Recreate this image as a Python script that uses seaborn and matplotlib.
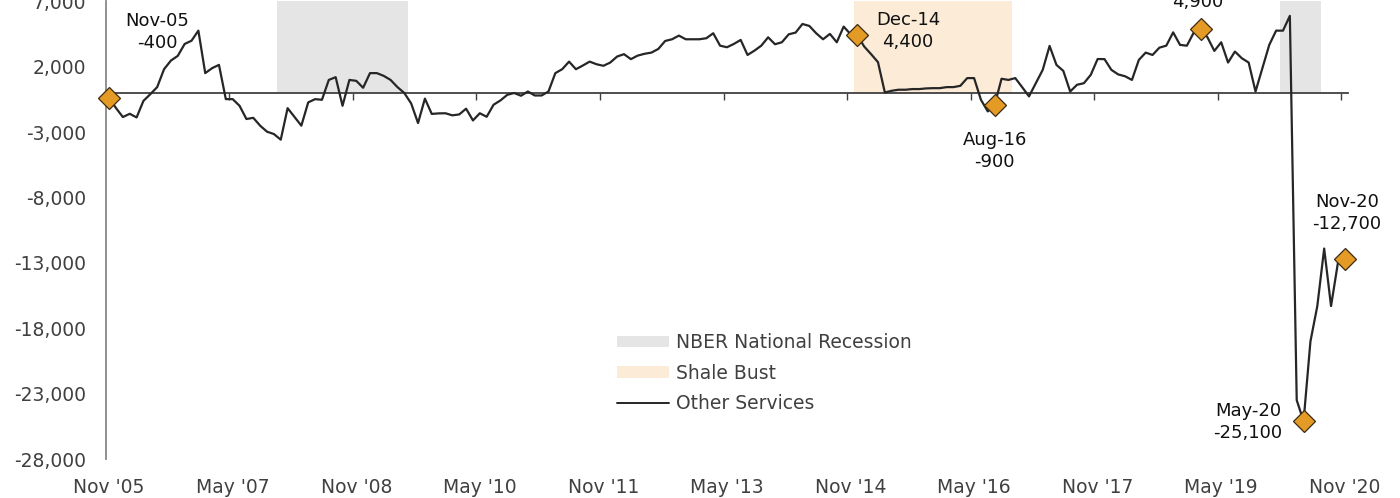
import numpy as np
import pandas as pd
import matplotlib
matplotlib.use("Agg")
import matplotlib.pyplot as plt
import seaborn as sns
from matplotlib.patches import Patch
from matplotlib.lines import Line2D

# Monthly change, Other Services, Nov 2005 .. Nov 2020
start_month = "2005-11"
other_services = [
    -400, -1150, -1840, -1590, -1870, -600, -90, 450, 1820, 2480,
    2840, 3750, 4000, 4770, 1520, 1900, 2150, -470, -470, -980,
    -1990, -1900, -2500, -2960, -3140, -3570, -1160, -1830, -2500, -720,
    -470, -520, 1000, 1210, -980, 1000, 930, 400, 1520, 1520,
    1310, 1000, 450, 0, -800, -2300, -430, -1600, -1560, -1550,
    -1710, -1640, -1200, -2100, -1550, -1820, -900, -570, -140, 0,
    -210, 115, -190, -190, 115, 1520, 1820, 2400, 1820, 2100,
    2400, 2200, 2080, 2330, 2790, 2970, 2590, 2860, 3000, 3090,
    3370, 3980, 4110, 4390, 4110, 4110, 4110, 4190, 4570, 3620,
    3500, 3750, 4060, 2910, 3240, 3620, 4260, 3730, 3880, 4490,
    4620, 5280, 5130, 4570, 4110, 4520, 3880, 5080, 4500, 4400,
    3550, 2970, 2360, 40, 170, 250, 250, 300, 300, 350,
    370, 370, 450, 450, 550, 1140, 1140, -520, -1410, -900,
    1090, 1000, 1140, 450, -260, 750, 1770, 3600, 2150, 1690,
    115, 630, 750, 1390, 2600, 2590, 1770, 1420, 1280, 1000,
    2530, 3090, 2910, 3470, 3620, 4640, 3680, 3620, 4620, 4900,
    4260, 3220, 3880, 2330, 3170, 2660, 2330, 115, 1900, 3680,
    4770, 4770, 5900, -23500, -25100, -19000, -16300, -11900, -16300, -13000,
    -12700,
]

recession_months = ["2007-12", "2008-01", "2008-02", "2008-03", "2008-04", "2008-05",
                    "2008-06", "2008-07", "2008-08", "2008-09", "2008-10", "2008-11",
                    "2008-12", "2009-01", "2009-02", "2009-03", "2009-04", "2009-05",
                    "2009-06", "2020-02", "2020-03", "2020-04", "2020-05", "2020-06",
                    "2020-07"]
shale_start, shale_end = "2014-12", "2016-10"
shade_top = 7000

# highlighted points and where their labels sit (month offset, value)
highlights = ["2005-11", "2014-12", "2016-08", "2019-02", "2020-05", "2020-11"]
label_pos = [(7.0, 4680), (116.4, 4720), (129.0, -4420), (158.6, 7820),
             (165.9, -25150), (180.3, -9160)]

tick_step = 18

dates = pd.date_range(start_month, periods=len(other_services), freq="MS")
df = pd.DataFrame({"date": dates, "value": other_services})
df["m"] = np.arange(len(df))
idx = {d.strftime("%Y-%m"): i for i, d in enumerate(dates)}

sns.set_theme(style="white")
plt.rcParams["font.family"] = ["DejaVu Sans"]

fig = plt.figure(figsize=(14, 4.98), dpi=100)
ax = fig.add_axes([0.0755, 0.0783, 0.8875, 0.9187])

grey = "#E5E5E5"
shale = "#FBEBD7"
rec_m = [idx[d] for d in recession_months]
ax.bar(rec_m, [shade_top] * len(rec_m), width=1.0, color=grey, linewidth=0, zorder=0)
shale_m = list(range(idx[shale_start], idx[shale_end] + 1))
ax.bar(shale_m, [shade_top] * len(shale_m), width=1.0, color=shale, linewidth=0, zorder=0)

sns.lineplot(data=df, x="m", y="value", ax=ax, color="#262626", linewidth=1.6, zorder=3)

hl = df.iloc[[idx[h] for h in highlights]]
ax.plot(hl["m"], hl["value"], linestyle="none", marker="D", markersize=11,
        markerfacecolor="#E39B26", markeredgecolor="#3B2B12", markeredgewidth=0.9,
        zorder=4, clip_on=False)

for (_, row), (lx, ly) in zip(hl.iterrows(), label_pos):
    txt = f"{row['date'].strftime('%b-%y')}\n{row['value']:,.0f}"
    ax.text(lx, ly, txt, ha="center", va="center", fontsize=13, color="#111111",
            linespacing=1.3, zorder=5)

ax.set_xlim(-0.5, len(df) - 0.5)
ax.set_ylim(-28000, 7000)
ax.set_yticks(np.arange(-28000, 7001, 5000))
ax.set_yticklabels([f"{v:,}" for v in range(-28000, 7001, 5000)])
ax.tick_params(axis="y", length=0, labelsize=13.5, labelcolor="#404040", pad=14)

# category axis crossing at zero
ax.spines["bottom"].set_position(("data", 0))
ax.spines["bottom"].set_color("#404040")
ax.spines["bottom"].set_linewidth(1.3)
ax.spines["bottom"].set_zorder(2)
for s in ["top", "right"]:
    ax.spines[s].set_visible(False)
ax.spines["left"].set_color("#888888")
ax.spines["left"].set_linewidth(1.3)
xt = np.arange(0, len(df), tick_step)
ax.set_xticks(xt - 0.5)
ax.tick_params(axis="x", direction="out", length=5, width=1, color="#404040", labelbottom=False,
               bottom=True)

sec = ax.secondary_xaxis("bottom")
sec.spines["bottom"].set_visible(False)
sec.set_xticks(xt)
sec.set_xticklabels([dates[i].strftime("%b '%y") for i in xt])
sec.tick_params(length=0, labelsize=13.5, labelcolor="#404040", pad=14)

ax.set_xlabel("")
ax.set_ylabel("")

handles = [Patch(facecolor=grey, edgecolor="none", label="NBER National Recession"),
           Patch(facecolor=shale, edgecolor="none", label="Shale Bust"),
           Line2D([], [], color="#262626", linewidth=1.4, label="Other Services")]
ax.legend(handles=handles, loc="upper left", bbox_to_anchor=(0.398, 0.312), frameon=False,
          fontsize=13.5, handlelength=2.75, handleheight=0.55, labelspacing=0.62,
          handletextpad=0.4, labelcolor="#404040")

fig.savefig("out.png", dpi=100)
